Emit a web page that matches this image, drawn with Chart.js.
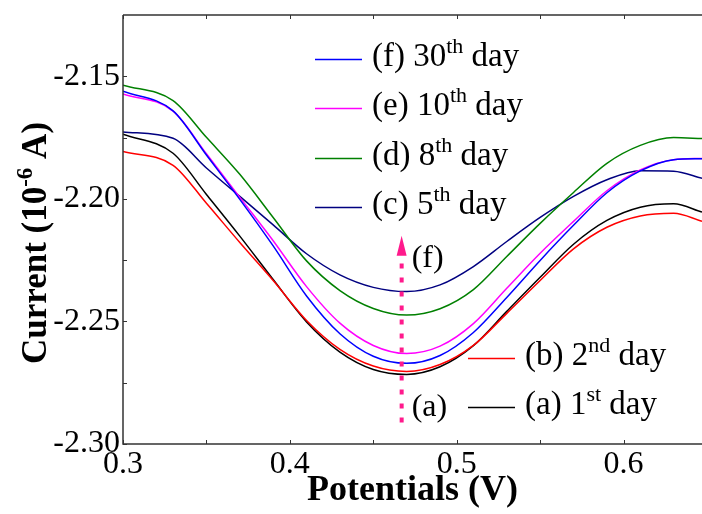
<!DOCTYPE html>
<html>
<head>
<meta charset="utf-8">
<script src="https://cdn.jsdelivr.net/npm/chart.js@4.4.0/dist/chart.umd.min.js"></script>
<style>
  html, body { margin: 0; padding: 0; background: #fff; }
</style>
</head>
<body>
<canvas id="chart" width="702" height="514"></canvas>
<script>
// potential (V) where the curves were read
const potentials = [0.30, 0.33, 0.35, 0.37, 0.39, 0.41, 0.43, 0.45, 0.47, 0.49, 0.51, 0.53, 0.55, 0.57, 0.59, 0.61, 0.63, 0.647];

// current (10^-6 A) for each day
const day30 = [-2.1561, -2.1641, -2.1821, -2.2002, -2.2192, -2.2396, -2.2550, -2.2642, -2.2671, -2.2639, -2.2545, -2.2402, -2.2251, -2.2108, -2.1975, -2.1886, -2.1840, -2.1836];
const day10 = [-2.1572, -2.1642, -2.1816, -2.1994, -2.2171, -2.2358, -2.2507, -2.2598, -2.2631, -2.2601, -2.2509, -2.2365, -2.2222, -2.2092, -2.1967, -2.1882, -2.1840, -2.1835];
const day8  = [-2.1536, -2.1599, -2.1749, -2.1900, -2.2076, -2.2253, -2.2374, -2.2447, -2.2474, -2.2448, -2.2370, -2.2235, -2.2100, -2.1974, -2.1855, -2.1782, -2.1750, -2.1754];
const day5  = [-2.1727, -2.1753, -2.1874, -2.1990, -2.2106, -2.2224, -2.2310, -2.2361, -2.2378, -2.2351, -2.2276, -2.2174, -2.2076, -2.1990, -2.1922, -2.1885, -2.1887, -2.1916];
const day2  = [-2.1807, -2.1863, -2.2018, -2.2178, -2.2333, -2.2496, -2.2614, -2.2682, -2.2704, -2.2676, -2.2598, -2.2467, -2.2333, -2.2204, -2.2116, -2.2070, -2.2059, -2.2091];
const day1  = [-2.1736, -2.1814, -2.1982, -2.2152, -2.2329, -2.2502, -2.2625, -2.2696, -2.2716, -2.2685, -2.2599, -2.2459, -2.2320, -2.2185, -2.2088, -2.2034, -2.2020, -2.2054];

const seriesNames = ['(f) 30', '(e) 10', '(d) 8', '(c) 5', '(b) 2', '(a) 1'];
const seriesSup = ['th', 'th', 'th', 'th', 'nd', 'st'];
const seriesData = [day30, day10, day8, day5, day2, day1];
const seriesColors = ['#0000ff', '#ff00ff', '#008000', '#000080', '#ff0000', '#000000'];

const xTicks = [0.3, 0.4, 0.5, 0.6];
const xTickLabels = ['0.3', '0.4', '0.5', '0.6'];
const yTicks = [-2.30, -2.25, -2.20, -2.15];
const yTickLabels = ['-2.30', '-2.25', '-2.20', '-2.15'];
const xMinor = [0.35, 0.45, 0.55];
const yMinor = [-2.275, -2.225, -2.175];

// arrow marking the trend from (a) to (f)
const arrowX = 0.467;
const arrowFrom = -2.2912;
const arrowTo = -2.2150;

const SERIF = '"Liberation Serif", "Times New Roman", serif';

const frame = {
  id: 'frame',
  afterDraw(chart) {
    const ctx = chart.ctx;
    const a = chart.chartArea;
    const xs = chart.scales.x, ys = chart.scales.y;
    ctx.save();
    ctx.strokeStyle = '#333';
    ctx.lineWidth = 1.5;
    ctx.beginPath();
    ctx.moveTo(a.left, a.top); ctx.lineTo(a.right + 2, a.top);
    ctx.moveTo(a.left, a.top); ctx.lineTo(a.left, a.bottom);
    ctx.lineTo(a.right + 2, a.bottom);
    ctx.stroke();
    ctx.lineWidth = 1;
    ctx.beginPath();
    xTicks.concat(xMinor).forEach(v => {
      const px = Math.round(xs.getPixelForValue(v)) + 0.5;
      ctx.moveTo(px, a.bottom); ctx.lineTo(px, a.bottom - 4);
      ctx.moveTo(px, a.top); ctx.lineTo(px, a.top + 4);
    });
    yTicks.concat(yMinor).forEach(v => {
      const py = Math.round(ys.getPixelForValue(v)) + 0.5;
      ctx.moveTo(a.left, py); ctx.lineTo(a.left + 4, py);
    });
    ctx.stroke();

    // y title with superscript
    ctx.fillStyle = '#000';
    ctx.textBaseline = 'alphabetic';
    const big = 'bold 35px ' + SERIF, small = 'bold 23px ' + SERIF;
    const parts = [['Current (10', big, 0], ['-6', small, -14], [' A)', big, 0]];
    let w = 0;
    parts.forEach(p => { ctx.font = p[1]; w += ctx.measureText(p[0]).width; });
    ctx.translate(46, 243);
    ctx.rotate(-Math.PI / 2);
    let cx = -w / 2;
    parts.forEach(p => {
      ctx.font = p[1];
      ctx.fillText(p[0], cx, p[2]);
      cx += ctx.measureText(p[0]).width;
    });
    ctx.restore();

    // legend
    ctx.save();
    ctx.textBaseline = 'alphabetic';
    const spots = [[315, 59], [315, 108], [315, 158], [315, 207], [468, 358], [468, 407]];
    seriesNames.forEach((name, i) => {
      const [lx, ly] = spots[i];
      ctx.strokeStyle = seriesColors[i];
      ctx.lineWidth = 1.5;
      ctx.beginPath();
      ctx.moveTo(lx, ly + 0.5); ctx.lineTo(lx + 47, ly + 0.5);
      ctx.stroke();
      ctx.fillStyle = '#000';
      let tx = lx + 57;
      const by = ly + 7;
      ctx.font = '33px ' + SERIF;
      ctx.fillText(name, tx, by);
      tx += ctx.measureText(name).width;
      ctx.font = '22px ' + SERIF;
      ctx.fillText(seriesSup[i], tx, by - 13);
      tx += ctx.measureText(seriesSup[i]).width;
      ctx.font = '33px ' + SERIF;
      ctx.fillText(' day', tx, by);
    });

    // dotted arrow
    const ax = xs.getPixelForValue(arrowX);
    const y0 = ys.getPixelForValue(arrowFrom);
    const y1 = ys.getPixelForValue(arrowTo);
    ctx.strokeStyle = '#ff1a8c';
    ctx.fillStyle = '#ff1a8c';
    ctx.lineWidth = 4;
    ctx.setLineDash([5, 9]);
    ctx.beginPath();
    ctx.moveTo(ax, y0); ctx.lineTo(ax, y1 + 20);
    ctx.stroke();
    ctx.setLineDash([]);
    ctx.beginPath();
    ctx.moveTo(ax, y1); ctx.lineTo(ax - 5, y1 + 20); ctx.lineTo(ax + 5, y1 + 20);
    ctx.closePath();
    ctx.fill();
    ctx.fillStyle = '#000';
    ctx.font = '32px ' + SERIF;
    ctx.fillText('(f)', ax + 10, y1 + 31);
    ctx.fillText('(a)', ax + 10, y0 - 6);
    ctx.restore();
  }
};

new Chart(document.getElementById('chart'), {
  type: 'line',
  data: {
    datasets: seriesData.map((vals, i) => ({
      label: seriesNames[i] + seriesSup[i] + ' day',
      data: potentials.map((x, j) => ({ x: x, y: vals[j] })),
      borderColor: seriesColors[i],
      borderWidth: 1.5,
      pointRadius: 0,
      fill: false,
      cubicInterpolationMode: 'monotone'
    }))
  },
  options: {
    responsive: false,
    animation: false,
    layout: { padding: { top: 15, right: 0, left: 0, bottom: 0 } },
    plugins: { legend: { display: false }, tooltip: { enabled: false } },
    scales: {
      x: {
        type: 'linear',
        min: 0.3,
        max: 0.647,
        grid: { display: false, drawTicks: false },
        border: { display: false },
        afterBuildTicks: s => { s.ticks = xTicks.map(v => ({ value: v })); },
        afterFit: s => { s.height = 70; s.paddingLeft = 0; s.paddingRight = 0; },
        ticks: {
          autoSkip: false,
          maxRotation: 0,
          padding: 1,
          color: '#000',
          font: { family: SERIF, size: 32 },
          callback: (v, i) => xTickLabels[i]
        },
        title: {
          display: true,
          text: 'Potentials (V)',
          color: '#000',
          font: { family: SERIF, size: 36, weight: 'bold' },
          padding: { top: 0, bottom: 2 }
        }
      },
      y: {
        type: 'linear',
        min: -2.30,
        max: -2.125,
        grid: { display: false, drawTicks: false },
        border: { display: false },
        afterBuildTicks: s => { s.ticks = yTicks.map(v => ({ value: v })); },
        afterFit: s => { s.width = 123; s.paddingTop = 0; s.paddingBottom = 0; },
        ticks: {
          autoSkip: false,
          padding: 3,
          color: '#000',
          font: { family: SERIF, size: 32 },
          callback: (v, i) => yTickLabels[i]
        }
      }
    }
  },
  plugins: [frame]
});
</script>
</body>
</html>
